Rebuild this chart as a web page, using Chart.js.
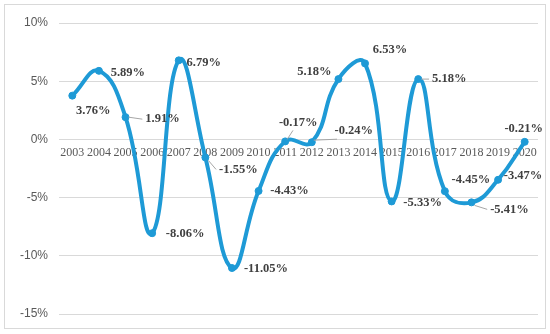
<!DOCTYPE html>
<html>
<head>
<meta charset="utf-8">
<script src="https://cdn.jsdelivr.net/npm/chart.js@4/dist/chart.umd.min.js"></script>
<style>
  html, body { margin: 0; padding: 0; background: #fff; }
  #wrap { width: 550px; height: 334px; position: relative; }
</style>
</head>
<body>
<div id="wrap"><canvas id="c"></canvas></div>
<script>
// datos de la serie (variacion anual, %)
var anios = ["2003", "2004", "2005", "2006", "2007", "2008", "2009", "2010", "2011",
             "2012", "2013", "2014", "2015", "2016", "2017", "2018", "2019", "2020"];
var variacion = [3.76, 5.89, 1.91, -8.06, 6.79, -1.55, -11.05, -4.43, -0.17,
                 -0.24, 5.18, 6.53, -5.33, 5.18, -4.45, -5.41, -3.47, -0.21];
var yTicks = [10, 5, 0, -5, -10, -15];

// desplazamiento de cada etiqueta respecto a su punto [dx, dy, linea guia]
var etiquetaPos = [
  [21, 15, false], [29, 2, false], [37, 2, true], [33, 1, false], [25, 2, false],
  [33, 12, true], [34, 1, false], [31, 0, false], [13, -19, true],
  [42, -11, true], [-24, -7, false], [25, -14, false], [31, 1, false],
  [31, 0, true], [26, -11, false], [38, 7, true], [25, -4, false], [-1, -13, false]
];

var AZUL = "#1e9ad6";

var etiquetasPlugin = {
  id: "etiquetas",
  afterDatasetsDraw: function(chart) {
    var ctx = chart.ctx;
    var meta = chart.getDatasetMeta(0);
    ctx.save();
    ctx.font = "bold 12.5px 'Liberation Serif', 'Times New Roman', serif";
    ctx.fillStyle = "#404040";
    ctx.textAlign = "center";
    ctx.textBaseline = "middle";
    meta.data.forEach(function(pt, i) {
      var p = etiquetaPos[i];
      var tx = pt.x + p[0], ty = pt.y + p[1];
      var txt = variacion[i].toFixed(2) + "%";
      if (p[2]) {
        var w = ctx.measureText(txt).width;
        var ex = tx - w / 2 - 3;
        ctx.strokeStyle = "#a6a6a6";
        ctx.lineWidth = 1;
        ctx.beginPath();
        if (p[1] < -5) {
          ctx.moveTo(pt.x + 2, pt.y - 2);
          ctx.lineTo(pt.x + p[0] * 0.6, ty + 8);
        } else {
          ctx.moveTo(pt.x + 3, pt.y + (p[1] > 4 ? 3 : 0));
          ctx.lineTo(ex, ty);
        }
        ctx.stroke();
      }
      ctx.fillText(txt, tx, ty);
    });
    ctx.restore();
  }
};

var bordePlugin = {
  id: "borde",
  afterDraw: function(chart) {
    var ctx = chart.ctx;
    ctx.save();
    ctx.strokeStyle = "#d9d9d9";
    ctx.lineWidth = 1;
    ctx.strokeRect(4.5, 4.5, 541, 324);
    ctx.restore();
  }
};

new Chart(document.getElementById("c"), {
  type: "line",
  data: {
    labels: anios,
    datasets: [{
      data: variacion,
      borderColor: AZUL, backgroundColor: AZUL,
      pointBackgroundColor: AZUL, pointBorderColor: AZUL,
      borderWidth: 4, pointRadius: 3.5, pointBorderWidth: 1, tension: 0.45,
      clip: false
    }]
  },
  options: {
    responsive: true, maintainAspectRatio: false,
    animation: false,
    layout: { padding: { left: 0, right: 12, top: 23, bottom: 20 } },
    plugins: { legend: { display: false }, tooltip: { enabled: false } },
    scales: {
      x: {
        position: { y: 0 },
        offset: true,
        grid: { display: false, drawTicks: false },
        border: { display: false },
        ticks: {
          autoSkip: false, maxRotation: 0, padding: 6,
          color: "#595959",
          font: { family: "'Liberation Serif', 'Times New Roman', serif", size: 12 }
        }
      },
      y: {
        min: -15, max: 10,
        afterBuildTicks: function(axis) {
          axis.ticks = yTicks.map(function(v) { return { value: v }; });
        },
        afterFit: function(axis) { axis.width = 59; },
        grid: { color: "#d9d9d9", lineWidth: 1, drawTicks: false },
        border: { display: false },
        ticks: {
          padding: 11,
          color: "#595959",
          font: { family: "'Liberation Sans', Arial, sans-serif", size: 12 },
          callback: function(v) { return v + "%"; }
        }
      }
    }
  },
  plugins: [etiquetasPlugin, bordePlugin]
});
</script>
</body>
</html>
